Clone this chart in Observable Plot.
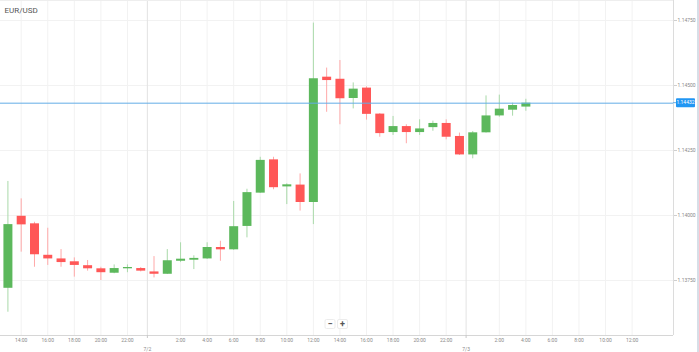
<!DOCTYPE html>
<html><head><meta charset="utf-8">
<script src="https://cdn.jsdelivr.net/npm/d3@7"></script>
<script src="https://cdn.jsdelivr.net/npm/@observablehq/plot@0.6"></script>
<style>body{margin:0;background:#fff;} #chart{width:699px;height:352px;overflow:hidden;}</style>
</head><body><div id="chart"></div>
<script>
const title = "EUR/USD";
const times = [
  "2018-07-01T13:00Z","2018-07-01T14:00Z","2018-07-01T15:00Z","2018-07-01T16:00Z","2018-07-01T17:00Z",
  "2018-07-01T18:00Z","2018-07-01T19:00Z","2018-07-01T20:00Z","2018-07-01T21:00Z","2018-07-01T22:00Z",
  "2018-07-01T23:00Z","2018-07-02T00:00Z","2018-07-02T01:00Z","2018-07-02T02:00Z","2018-07-02T03:00Z",
  "2018-07-02T04:00Z","2018-07-02T05:00Z","2018-07-02T06:00Z","2018-07-02T07:00Z","2018-07-02T08:00Z",
  "2018-07-02T09:00Z","2018-07-02T10:00Z","2018-07-02T11:00Z","2018-07-02T12:00Z","2018-07-02T13:00Z",
  "2018-07-02T14:00Z","2018-07-02T15:00Z","2018-07-02T16:00Z","2018-07-02T17:00Z","2018-07-02T18:00Z",
  "2018-07-02T19:00Z","2018-07-02T20:00Z","2018-07-02T21:00Z","2018-07-02T22:00Z","2018-07-02T23:00Z",
  "2018-07-03T00:00Z","2018-07-03T01:00Z","2018-07-03T02:00Z","2018-07-03T03:00Z","2018-07-03T04:00Z"
];
const open  = [1.13720,1.13997,1.13968,1.13847,1.13833,1.13822,1.13807,1.13795,1.13778,1.13795,
               1.13796,1.13783,1.13774,1.13824,1.13828,1.13833,1.13877,1.13868,1.13958,1.14086,
               1.14214,1.14110,1.14117,1.14050,1.14532,1.14524,1.14450,1.14490,1.14390,1.14319,
               1.14342,1.14319,1.14338,1.14354,1.14304,1.14233,1.14318,1.14383,1.14405,1.14417];
const high  = [1.14131,1.14064,1.13974,1.13951,1.13869,1.13837,1.13827,1.13801,1.13810,1.13810,
               1.13800,1.13842,1.13869,1.13895,1.13845,1.13895,1.13901,1.14054,1.14101,1.14224,
               1.14224,1.14122,1.14160,1.14740,1.14567,1.14596,1.14510,1.14495,1.14392,1.14381,
               1.14349,1.14368,1.14363,1.14368,1.14317,1.14323,1.14460,1.14463,1.14432,1.14447];
const low   = [1.13628,1.13859,1.13801,1.13808,1.13801,1.13763,1.13786,1.13750,1.13776,1.13780,
               1.13783,1.13760,1.13773,1.13819,1.13792,1.13831,1.13824,1.13866,1.13914,1.14085,
               1.14099,1.14042,1.14017,1.13965,1.14397,1.14349,1.14410,1.14367,1.14301,1.14308,
               1.14276,1.14308,1.14324,1.14291,1.14231,1.14218,1.14317,1.14378,1.14382,1.14401];
const close = [1.13965,1.13964,1.13849,1.13833,1.13819,1.13808,1.13795,1.13780,1.13796,1.13800,
               1.13786,1.13774,1.13826,1.13832,1.13835,1.13877,1.13868,1.13957,1.14088,1.14212,
               1.14107,1.14118,1.14050,1.14526,1.14519,1.14449,1.14486,1.14389,1.14315,1.14342,
               1.14319,1.14333,1.14354,1.14301,1.14233,1.14318,1.14383,1.14409,1.14423,1.14432];
const yTicks = [1.1375, 1.14, 1.1425, 1.145, 1.1475];
const hourTicks = [
  "2018-07-01T14:00Z","2018-07-01T16:00Z","2018-07-01T18:00Z","2018-07-01T20:00Z","2018-07-01T22:00Z",
  "2018-07-02T02:00Z","2018-07-02T04:00Z","2018-07-02T06:00Z","2018-07-02T08:00Z","2018-07-02T10:00Z",
  "2018-07-02T12:00Z","2018-07-02T14:00Z","2018-07-02T16:00Z","2018-07-02T18:00Z","2018-07-02T20:00Z",
  "2018-07-02T22:00Z","2018-07-03T02:00Z","2018-07-03T04:00Z","2018-07-03T06:00Z","2018-07-03T08:00Z",
  "2018-07-03T10:00Z","2018-07-03T12:00Z"
];
const dayMarks = ["2018-07-01T23:30Z", "2018-07-02T23:30Z"];
const dayLabels = ["7/2", "7/3"];
const xDomain = ["2018-07-01T12:26:30Z", "2018-07-03T15:07:00Z"];
const yDomain = [1.135385, 1.148269];

const GREEN = "#5cb85c", RED = "#ff5757";
const GREEN_W = "#a9d9a9", RED_W = "#ffa8a8";

const candles = times.map((t, i) => ({time: new Date(t), open: open[i], high: high[i], low: low[i], close: close[i]}));
const up = candles.filter(d => d.close >= d.open);
const down = candles.filter(d => d.close < d.open);
const lastClose = close[close.length - 1];
const hourDates = hourTicks.map(d => new Date(d));
const dayDates = dayMarks.map(d => new Date(d));
const dayLabelMap = new Map(dayDates.map((d, i) => [+d, dayLabels[i]]));

const plot = Plot.plot({
  width: 699, height: 352,
  marginLeft: 0, marginRight: 26, marginTop: 0, marginBottom: 17,
  style: {fontFamily: "Roboto, sans-serif", background: "#fff", overflow: "visible"},
  x: {type: "utc", domain: xDomain.map(d => new Date(d))},
  y: {domain: yDomain},
  marks: [
    Plot.ruleY(yTicks, {stroke: "#f2f2f2"}),
    Plot.ruleX(hourDates, {stroke: "#f2f2f2"}),
    Plot.ruleX(dayDates, {stroke: "#e3e3e3"}),
    Plot.ruleY([yDomain[0]], {stroke: "#d6d6d6"}),
    Plot.ruleX([new Date(xDomain[1])], {stroke: "#dcdcdc"}),
    Plot.ruleY([yDomain[1]], {stroke: "#eeeeee"}),
    Plot.ruleX(up, {x: "time", y1: "low", y2: "high", stroke: GREEN_W}),
    Plot.ruleX(down, {x: "time", y1: "low", y2: "high", stroke: RED_W}),
    Plot.ruleX(up, {x: "time", y1: "open", y2: "close", stroke: GREEN, strokeWidth: 9}),
    Plot.ruleX(down, {x: "time", y1: "open", y2: "close", stroke: RED, strokeWidth: 9}),
    Plot.ruleY([lastClose], {stroke: "#62ace6"}),
    Plot.axisX({ticks: hourDates, tickSize: 0, tickPadding: 3, tickFormat: d3.utcFormat("%-H:%M"), fontSize: 5, color: "#8a8a8a"}),
    Plot.axisX({ticks: dayDates, tickSize: 3, tickPadding: 9, tickFormat: d => dayLabelMap.get(+d), fontSize: 5, color: "#8a8a8a", stroke: "#c8c8c8"}),
    Plot.axisY({ticks: yTicks, anchor: "right", tickSize: 3, tickPadding: 1, tickFormat: d3.format(".5f"), fontSize: 5, color: "#8a8a8a", stroke: "#cfcfcf"}),
    Plot.text([title], {frameAnchor: "top-left", dx: 4, dy: 10, fontSize: 8, fill: "#555", lineAnchor: "middle"})
  ]
});
document.getElementById("chart").append(plot);

// current price label, positioned with the library's scales
const svg = d3.select(plot);
const ySc = plot.scale("y"), xSc = plot.scale("x");
const yy = ySc.apply(lastClose);
const xr = xSc.range[1];
svg.append("line").attr("x1", xr).attr("x2", xr + 3).attr("y1", yy).attr("y2", yy).attr("stroke", "#62ace6");
svg.append("rect").attr("x", xr + 3).attr("y", yy - 4.5).attr("width", 19).attr("height", 9).attr("rx", 1).attr("fill", "#2196f3");
svg.append("text").attr("x", xr + 12.5).attr("y", yy).attr("dy", "0.35em").attr("text-anchor", "middle")
  .attr("font-size", 5).attr("fill", "#fff").text(d3.format(".5f")(lastClose));
// scroll strip on the right edge
svg.append("rect").attr("x", 697).attr("y", 0).attr("width", 2).attr("height", 352).attr("fill", "#d7dee7");
// zoom buttons
const cx = (xSc.range[0] + xSc.range[1]) / 2;
const by = ySc.range[0] - 11;
[["−", -6.5], ["+", 6]].forEach(([s, off]) => {
  svg.append("rect").attr("x", cx + off - 5).attr("y", by - 4.5).attr("width", 10).attr("height", 9).attr("rx", 1.5)
    .attr("fill", "#fff").attr("stroke", "#ececec");
  svg.append("text").attr("x", cx + off).attr("y", by).attr("dy", "0.35em").attr("text-anchor", "middle")
    .attr("font-size", 9).attr("font-weight", "bold").attr("fill", "#555").text(s);
});
</script>
</body></html>
